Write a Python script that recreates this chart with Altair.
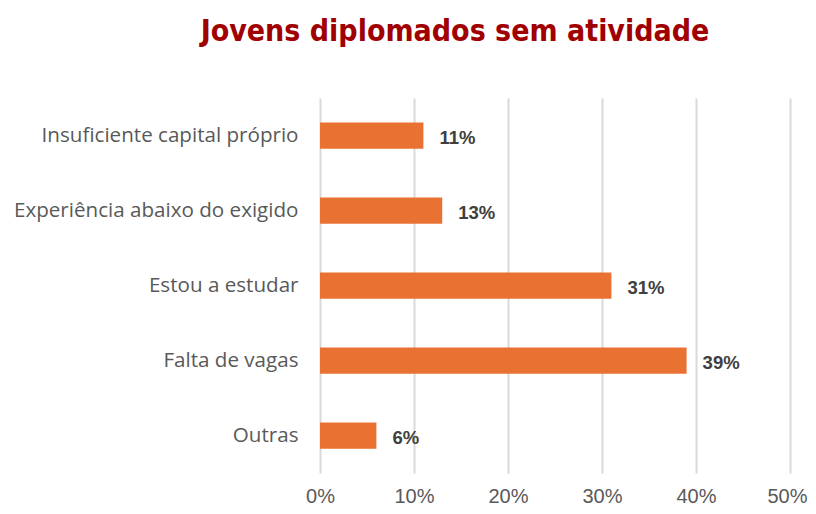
import altair as alt
import pandas as pd

categories = ["Insuficiente capital próprio", "Experiência abaixo do exigido", "Estou a estudar", "Falta de vagas", "Outras"]
values = [0.11, 0.13, 0.31, 0.39, 0.06]
labels = ["11%", "13%", "31%", "39%", "6%"]

df = pd.DataFrame({"cat": categories, "val": values, "lab": labels})

y_enc = alt.Y("cat:N", sort=categories, title=None,
              scale=alt.Scale(paddingInner=0.65, paddingOuter=0.325),
              axis=alt.Axis(domain=False, ticks=False, labelFontSize=20.6, labelColor="#595959",
                            labelFont="Open Sans", labelPadding=22, labelLimit=400))
x_enc = alt.X("val:Q", title=None,
              scale=alt.Scale(domain=[0, 0.5]),
              axis=alt.Axis(format=".0%", values=[0, 0.1, 0.2, 0.3, 0.4, 0.5], domain=False, ticks=False,
                            gridColor="#d9d9d9", gridWidth=2, labelFontSize=20, labelColor="#595959",
                            labelFont="Liberation Sans", labelPadding=13, labelFlush=False,
                            labelOffset={"condition": {"test": "datum.value >= 0.5", "value": -3}, "value": 0}))

bars = alt.Chart(df).mark_bar(color="#E97132").encode(x=x_enc, y=y_enc)
text = alt.Chart(df).mark_text(align="left", dx=16, dy=2, fontSize=18.5, fontWeight="bold",
                               color="#404040", font="Liberation Sans").encode(
    x="val:Q", y=alt.Y("cat:N", sort=categories), text="lab:N")

chart = (bars + text).properties(
    width=470, height=375,
    title=alt.TitleParams("Jovens diplomados sem atividade", fontSize=30, fontWeight="bold",
                          color="#A00000", font="DejaVu Sans Condensed", anchor="middle",
                          dx=-100, offset=51),
    autosize=alt.AutoSizeParams(type="none"),
    padding={"left": 312, "top": 90, "right": 18, "bottom": 32},
).configure_view(stroke=None)

chart.save("out.html", embed_options={"renderer": "svg", "actions": False})
